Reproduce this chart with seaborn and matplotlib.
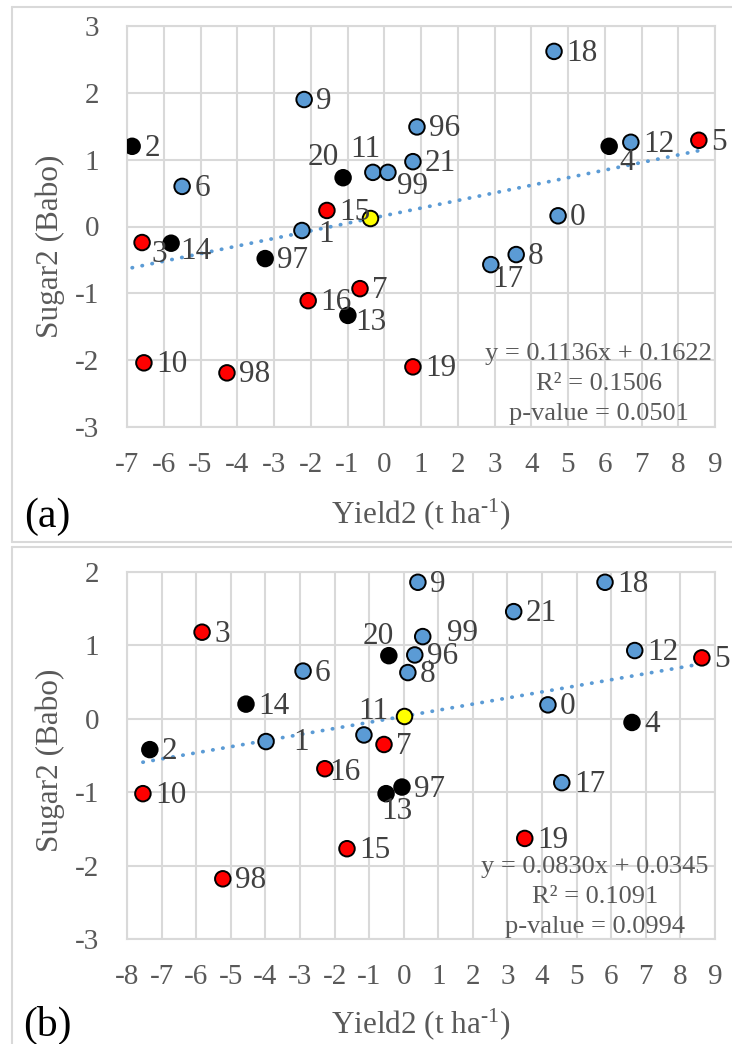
import numpy as np
import matplotlib
matplotlib.use("Agg")
import matplotlib.pyplot as plt
from matplotlib.lines import Line2D
import seaborn as sns
import pandas as pd

# ---- panel (a) data ----
labels_a = ["2", "9", "6", "20", "11", "99", "21", "96", "15", "1", "97", "16", "7",
            "13", "3", "14", "10", "98", "18", "4", "12", "5", "0", "8", "17", "19", ""]
yield_a = [-6.86, -2.18, -5.50, -1.12, -0.31, 0.10, 0.78, 0.89, -1.56, -2.24, -3.24, -2.07, -0.66,
           -0.99, -6.59, -5.80, -6.54, -4.28, 4.62, 6.12, 6.71, 8.56, 4.73, 3.59, 2.90, 0.78, -0.39]
sugar_a = [1.20, 1.90, 0.60, 0.73, 0.81, 0.81, 0.97, 1.49, 0.24, -0.06, -0.48, -1.11, -0.93,
           -1.33, -0.24, -0.25, -2.04, -2.19, 2.62, 1.20, 1.26, 1.29, 0.16, -0.42, -0.57, -2.10, 0.13]
group_a = ["k", "b", "b", "k", "b", "b", "b", "b", "r", "b", "k", "r", "r",
           "k", "r", "k", "r", "r", "b", "k", "b", "r", "b", "b", "b", "r", "m"]
fit_a = (0.1136, 0.1622)
eq_a = ["y = 0.1136x + 0.1622", "R² = 0.1506", "p-value = 0.0501"]

# ---- panel (b) data ----
labels_b = ["3", "6", "14", "1", "2", "10", "98", "15", "16", "11", "7", "13", "97",
            "20", "96", "8", "99", "9", "21", "18", "12", "5", "0", "4", "17", "19", ""]
yield_b = [-5.83, -2.91, -4.56, -3.98, -7.34, -7.54, -5.23, -1.64, -2.28, -1.15, -0.57, -0.51, -0.05,
           -0.43, 0.32, 0.12, 0.55, 0.41, 3.18, 5.82, 6.68, 8.62, 4.17, 6.60, 4.57, 3.50, 0.00]
sugar_b = [1.18, 0.65, 0.20, -0.31, -0.42, -1.02, -2.18, -1.77, -0.68, -0.22, -0.35, -1.02, -0.93,
           0.86, 0.87, 0.63, 1.12, 1.86, 1.46, 1.86, 0.93, 0.83, 0.19, -0.05, -0.87, -1.63, 0.04]
group_b = ["r", "b", "k", "b", "k", "r", "r", "r", "r", "b", "r", "k", "k",
           "k", "b", "b", "b", "b", "b", "b", "b", "r", "b", "k", "b", "r", "m"]
fit_b = (0.0830, 0.0345)
eq_b = ["y = 0.0830x + 0.0345", "R² = 0.1091", "p-value = 0.0994"]

palette = {"b": "#5B9BD5", "r": "#FF0000", "k": "#000000", "m": "#FFFF00"}

# label placement tweaks (pixels: dx, dy up, ha)
offs_a = {"20": (-4, 20, "right"), "11": (-8, 23, "center"), "99": (9, -14, "left"),
          "3": (9, -12, "left"), "14": (9, -8, "left"), "13": (7, -7, "left"),
          "4": (18, -16, "center"), "17": (17, -15, "center"), "1": (16, -4, "left")}
offs_b = {"1": (27, -1, "left"), "11": (9, 23, "center"), "13": (11, -18, "center"),
          "20": (-11, 19, "center"), "99": (24, 3, "left"), "16": (4, -4, "left")}

sns.set_theme(style="white")
plt.rcParams["font.family"] = ["Liberation Serif", "DejaVu Serif"]
plt.rcParams["axes.unicode_minus"] = False
plt.rcParams["mathtext.fontset"] = "custom"
plt.rcParams["mathtext.rm"] = "Liberation Serif"
plt.rcParams["mathtext.it"] = "Liberation Serif:italic"

W, H = 732, 1044
fig = plt.figure(figsize=(W / 100, H / 100), dpi=100)
grey = "#D9D9D9"
txt = "#595959"


def px(x, y):
    return x / W, 1 - y / H


def panel(rect, xs, ys, groups, labels, offs, fit, eq, xlim, ylim, eq_pos):
    ax = fig.add_axes(rect)
    df = pd.DataFrame({"x": xs, "y": ys, "g": groups, "lab": labels})
    pts = df[df.g != "m"]
    mean = df[df.g == "m"]
    lo, hi = pts.x.min(), pts.x.max()
    line = pd.DataFrame({"x": [lo, hi], "y": [fit[0] * lo + fit[1], fit[0] * hi + fit[1]]})
    sns.lineplot(data=line, x="x", y="y", ax=ax, color="#5B9BD5", lw=2.7,
                 linestyle=(0, (0.1, 2.6)), zorder=2)
    ax.lines[-1].set_dash_capstyle("round")
    sns.scatterplot(data=pts, x="x", y="y", hue="g", palette=palette, s=125,
                    edgecolor="black", linewidth=1.4, legend=False, ax=ax, zorder=3)
    sns.scatterplot(data=mean, x="x", y="y", color=palette["m"], s=125,
                    edgecolor="black", linewidth=1.4, legend=False, ax=ax, zorder=4)
    for _, r in pts.iterrows():
        dx, dy, ha = offs.get(r.lab, (12, -2, "left"))
        ax.annotate(r.lab, (r.x, r.y), xytext=(dx, dy), textcoords="offset pixels",
                    ha=ha, va="center", fontsize=22.5, color="#404040", zorder=5)
    for k, s in enumerate(eq):
        ax.annotate(s, eq_pos, xytext=(0, (1 - k) * 30), textcoords="offset pixels",
                    ha="center", va="center", fontsize=19, color=txt, zorder=5)
    ax.set_xlim(*xlim)
    ax.set_ylim(*ylim)
    ax.set_xticks(np.arange(xlim[0], xlim[1] + 1))
    ax.set_yticks(np.arange(ylim[0], ylim[1] + 1))
    ax.grid(True, color=grey, lw=1.5)
    ax.set_axisbelow(True)
    for s in ax.spines.values():
        s.set_color(grey)
        s.set_linewidth(1.5)
    ax.tick_params(length=0, labelsize=21, labelcolor=txt)
    ax.tick_params(axis="x", pad=18)
    ax.tick_params(axis="y", pad=20)
    ax.set_xlabel("")
    ax.set_ylabel("")
    return ax


l, b = px(127, 427)
r, t = px(715, 26)
panel([l, b, r - l, t - b], yield_a, sugar_a, group_a, labels_a, offs_a, fit_a, eq_a,
      (-7, 9), (-3, 3), (5.84, -2.36))
l, b = px(127, 939)
r, t = px(715, 572)
panel([l, b, r - l, t - b], yield_b, sugar_b, group_b, labels_b, offs_b, fit_b, eq_b,
      (-8, 9), (-3, 2), (5.53, -2.43))

# panel frames
for top, bot in [(7, 542), (547, 1060)]:
    x0, y0 = px(12, top)
    x1, y1 = px(760, bot)
    fig.add_artist(Line2D([x0, x1], [y0, y0], color=grey, lw=1.5))
    fig.add_artist(Line2D([x0, x0], [y0, y1], color=grey, lw=1.5))
    fig.add_artist(Line2D([x0, x1], [y1, y1], color=grey, lw=1.5))

# axis titles and panel tags
for yc, xc_lab, tag_y, tag in [(246, 514, 517, "(a)"), (760, 1024, 1025, "(b)")]:
    fig.text(*px(50, yc), "Sugar2 (Babo)", rotation=90, ha="center", va="center",
             fontsize=22.5, color=txt)
    fig.text(*px(421, xc_lab), "Yield2 (t ha$^{\\text{-1}}$)", ha="center", va="center",
             fontsize=22.5, color=txt)
    fig.text(*px(47, tag_y), tag, ha="center", va="center", fontsize=30, color="black")

fig.savefig("out.png", dpi=100)
